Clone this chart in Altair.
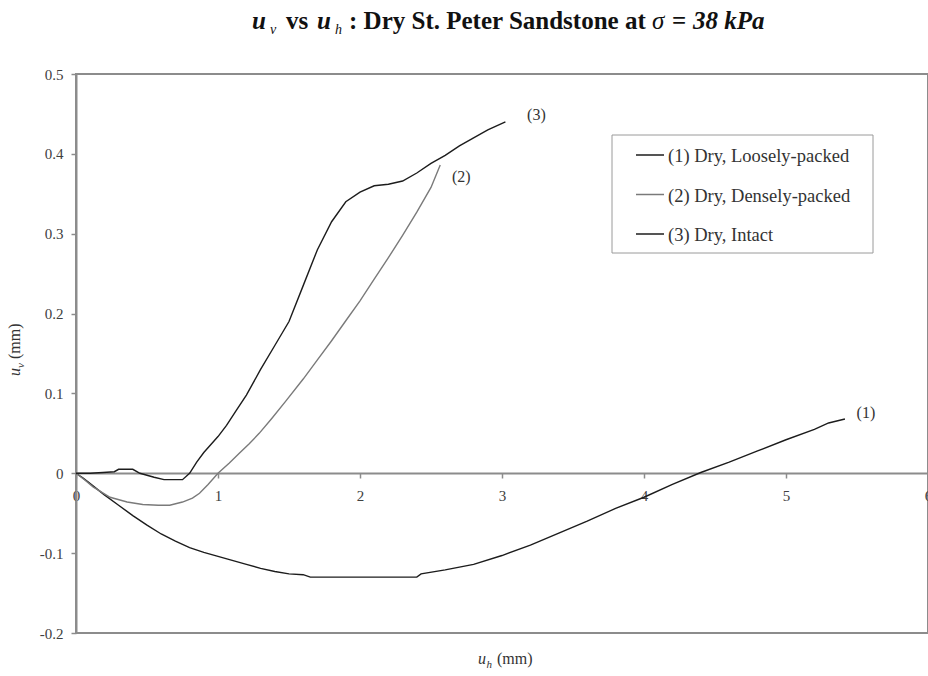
import altair as alt
import pandas as pd

# Horizontal (u_h) and vertical (u_v) displacement, mm
loose_uh = [0, 0.05, 0.1, 0.2, 0.3, 0.4, 0.5, 0.6, 0.7, 0.8, 0.9, 1.0, 1.1, 1.2, 1.3,
            1.4, 1.5, 1.6, 1.65, 2.0, 2.4, 2.43, 2.6, 2.8, 3.0, 3.2, 3.4, 3.6, 3.8,
            4.0, 4.2, 4.4, 4.6, 4.8, 5.0, 5.2, 5.3, 5.415]
loose_uv = [0, -0.006, -0.013, -0.027, -0.040, -0.053, -0.065, -0.076, -0.085, -0.093,
            -0.099, -0.104, -0.109, -0.114, -0.119, -0.123, -0.126, -0.127, -0.130,
            -0.130, -0.130, -0.126, -0.121, -0.114, -0.103, -0.090, -0.075, -0.060,
            -0.044, -0.030, -0.014, 0.001, 0.014, 0.028, 0.042, 0.055, 0.063, 0.068]

dense_uh = [0, 0.06, 0.12, 0.24, 0.36, 0.47, 0.58, 0.66, 0.75, 0.82, 0.87, 0.93, 1.0,
            1.08, 1.15, 1.22, 1.29, 1.38, 1.48, 1.6, 1.7, 1.8, 1.9, 2.0, 2.1, 2.2, 2.3,
            2.4, 2.5, 2.565]
dense_uv = [0, -0.008, -0.017, -0.030, -0.036, -0.039, -0.040, -0.040, -0.036, -0.031,
            -0.025, -0.014, 0.0, 0.013, 0.025, 0.037, 0.050, 0.069, 0.091, 0.118, 0.142,
            0.166, 0.191, 0.216, 0.243, 0.270, 0.298, 0.327, 0.358, 0.386]

intact_uh = [0, 0.1, 0.19, 0.27, 0.3, 0.4, 0.45, 0.55, 0.62, 0.75, 0.8, 0.85, 0.9, 0.95,
             1.0, 1.06, 1.13, 1.2, 1.3, 1.4, 1.5, 1.6, 1.7, 1.8, 1.9, 2.0, 2.1, 2.2, 2.3,
             2.4, 2.5, 2.6, 2.7, 2.8, 2.9, 3.024]
intact_uv = [0, 0, 0.001, 0.002, 0.005, 0.005, 0.0, -0.005, -0.008, -0.008, 0.0, 0.014,
             0.026, 0.036, 0.046, 0.060, 0.079, 0.098, 0.130, 0.160, 0.190, 0.235, 0.280,
             0.315, 0.340, 0.352, 0.360, 0.362, 0.366, 0.376, 0.388, 0.398, 0.410, 0.420,
             0.430, 0.440]

series_names = ["(1) Dry, Loosely-packed", "(2) Dry, Densely-packed", "(3) Dry, Intact"]
series_tags = ["(1)", "(2)", "(3)"]
series_colors = ["#1c1c1c", "#7a7a7a", "#1c1c1c"]
x_ticks = [0, 1, 2, 3, 4, 5, 6]
y_ticks = [-0.2, -0.1, 0, 0.1, 0.2, 0.3, 0.4, 0.5]

series_data = [(loose_uh, loose_uv), (dense_uh, dense_uv), (intact_uh, intact_uv)]
rows = []
for name, (xs, ys) in zip(series_names, series_data):
    for i, (xv, yv) in enumerate(zip(xs, ys)):
        rows.append({"series": name, "order": i, "uh": xv, "uv": yv})
df = pd.DataFrame(rows)

W, H = 852, 559
SERIF = "Liberation Serif"
TEXT = "#333333"

x_scale = alt.Scale(domain=[0, 6], nice=False, zero=False)
y_scale = alt.Scale(domain=[-0.2, 0.5], nice=False, zero=False)

curves = alt.Chart(df).mark_line(strokeWidth=1.4).encode(
    x=alt.X("uh:Q", scale=x_scale,
            axis=alt.Axis(values=x_ticks, format="d", title=None, offset=-160,
                          labelPadding=10, labelFlush=False, labelOverlap=False)),
    y=alt.Y("uv:Q", scale=y_scale,
            axis=alt.Axis(values=y_ticks, title=None, labelPadding=8, labelOverlap=False,
                          labelExpr="datum.value == 0 ? '0' : (datum.value < 0 ? '-' + format(-datum.value, '.1f') : format(datum.value, '.1f'))")),
    color=alt.Color("series:N", scale=alt.Scale(domain=series_names, range=series_colors),
                    legend=None),
    order=alt.Order("order:Q"),
)

layers = [curves]

# Series tags next to the final point of each curve
tag_offsets = [(21, -6), (21, 12), (31, -7)]
for tag, (xs, ys), (dx, dy) in zip(series_tags, series_data, tag_offsets):
    end = pd.DataFrame({"uh": [xs[-1]], "uv": [ys[-1]], "tag": [tag]})
    layers.append(
        alt.Chart(end).mark_text(font=SERIF, fontSize=16, color=TEXT, dx=dx, dy=dy)
        .encode(x="uh:Q", y="uv:Q", text="tag:N")
    )

# Legend box
one = pd.DataFrame({"k": [0]})
layers.append(
    alt.Chart(one).mark_rect(fill="white", stroke="#9a9a9a", strokeWidth=1).encode(
        x=alt.value(536), x2=alt.value(797), y=alt.value(61), y2=alt.value(179))
)
for i, (name, col) in enumerate(zip(series_names, series_colors)):
    yy = 81 + i * 39.5
    layers.append(
        alt.Chart(one).mark_rule(color=col, strokeWidth=1.5).encode(
            x=alt.value(560), x2=alt.value(588), y=alt.value(yy))
    )
    layers.append(
        alt.Chart(one).mark_text(font=SERIF, fontSize=18.5, color=TEXT, align="left",
                                 baseline="middle", text=name).encode(
            x=alt.value(592), y=alt.value(yy + 1))
    )


def label(text, x, y, size, weight="normal", style="normal", angle=0, color=TEXT):
    props = dict(font=SERIF, fontSize=size, fontWeight=weight, fontStyle=style,
                 color=color, align="left", baseline="alphabetic", text=text)
    if angle:
        props["angle"] = angle
    return alt.Chart(one).mark_text(**props).encode(x=alt.value(x), y=alt.value(y))


# Title (plot-area origin is the top-left corner of the frame at 76, 74)
tb = -45
ox = -76
INK = "#111111"
layers += [
    label("u", ox + 252, tb, 25, "bold", "italic", color=INK),
    label("v", ox + 270, tb + 5, 14, "normal", "italic", color=INK),
    label("vs", ox + 286, tb, 25, "bold", color=INK),
    label("u", ox + 317, tb, 25, "bold", "italic", color=INK),
    label("h", ox + 335, tb + 5, 14, "normal", "italic", color=INK),
    label(": Dry St. Peter Sandstone at", ox + 349, tb, 25, "bold", color=INK),
    label("\u03c3", ox + 652, tb, 25, "normal", "italic", color=INK),
    label("=", ox + 672, tb, 25, "bold", color=INK),
    label("38 kPa", ox + 693, tb, 25, "bold", "italic", color=INK),
]

# Axis titles
layers += [
    label("u", 402, 590, 16, style="italic"),
    label("h", 410.5, 594, 11, style="italic"),
    label("(mm)", 421, 590, 16),
    label("u", -56, 302, 16, style="italic", angle=270),
    label("v", -52, 294, 11, style="italic", angle=270),
    label("(mm)", -56, 285, 16, angle=270),
]

chart = alt.layer(*layers).properties(
    width=W, height=H,
    padding={"left": 76, "top": 74, "right": 0, "bottom": 39},
    autosize=alt.AutoSizeParams(type="none"),
).configure_view(
    stroke="#8c8c8c", strokeWidth=2
).configure_axis(
    domainColor="#8c8c8c", domainWidth=2, tickColor="#8c8c8c", tickWidth=1.5, tickSize=5,
    labelFont=SERIF, labelFontSize=15, labelColor="#404040", grid=False
)

chart.save("out.html", embed_options={"renderer": "svg", "actions": False})
